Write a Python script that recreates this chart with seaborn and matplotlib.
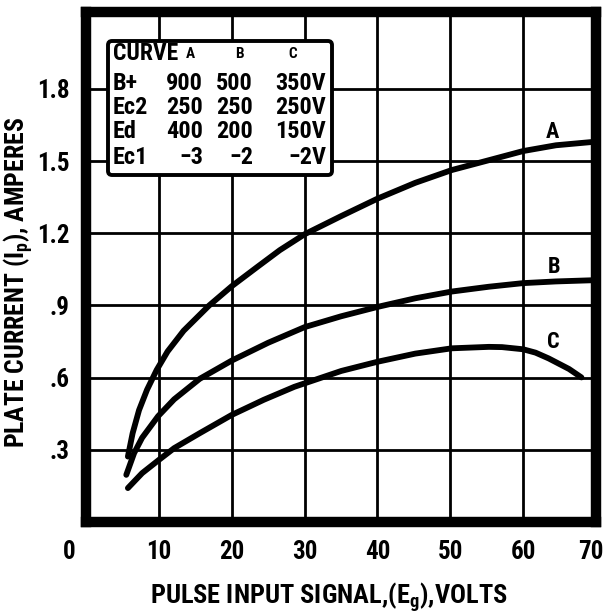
import matplotlib
matplotlib.use("Agg")
import matplotlib.pyplot as plt
from matplotlib import font_manager
from matplotlib.patches import FancyBboxPatch
from matplotlib.transforms import ScaledTranslation
import pandas as pd
import seaborn as sns

# curve data (pulse input volts, plate current amperes)
a_x = [5.75, 6.4, 7.28, 8.38, 9.7, 11.2, 13.4, 16.9, 20, 23.5, 26.6, 30, 35.05, 40, 45.2, 50.2, 55.3, 60, 64.5, 69.6]
a_y = [0.272, 0.369, 0.465, 0.55, 0.632, 0.709, 0.795, 0.90, 0.98, 1.06, 1.13, 1.196, 1.272, 1.344, 1.41, 1.463, 1.504, 1.542, 1.566, 1.58]

b_x = [5.53, 6.6, 7.7, 9.9, 12.1, 15.6, 20, 25, 30, 35, 40, 45.2, 50.2, 55.3, 60, 64.5, 69.6]
b_y = [0.196, 0.286, 0.35, 0.44, 0.51, 0.595, 0.671, 0.745, 0.81, 0.855, 0.894, 0.93, 0.958, 0.978, 0.993, 1.0, 1.005]

c_x = [5.75, 7.7, 10, 12.1, 15.6, 20, 24.4, 28.6, 35.05, 40, 45.2, 50.2, 55.3, 57.1, 60, 61.7, 63.5, 66.3, 68.0]
c_y = [0.141, 0.203, 0.258, 0.307, 0.369, 0.445, 0.508, 0.562, 0.628, 0.666, 0.7, 0.722, 0.728, 0.727, 0.718, 0.704, 0.68, 0.636, 0.601]

curve_names = ["A", "B", "C"]
label_pos = [(64.0, 1.62), (64.2, 1.058), (64.2, 0.749)]

x_ticks = [0, 10, 20, 30, 40, 50, 60, 70]
y_ticks = [0.3, 0.6, 0.9, 1.2, 1.5, 1.8]
y_tick_labels = [".3", ".6", ".9", "1.2", "1.5", "1.8"]

# table inset
table_header = ["CURVE", "A", "B", "C"]
table_rows = [
    ["B+", "900", "500", "350V"],
    ["Ec2", "250", "250", "250V"],
    ["Ed", "400", "200", "150V"],
    ["Ec1", "\u22123", "\u22122", "\u22122V"],
]

sns.set_style("white")

# look for a narrow / condensed face, the original lettering is condensed
fam, stretch, narrow = "DejaVu Sans", "normal", False
fonts = font_manager.fontManager.ttflist
for want in ["Liberation Sans Narrow", "Roboto Condensed", "Open Sans Condensed"]:
    if any(f.name == want for f in fonts):
        fam, narrow = want, True
        break
if not narrow:
    for f in fonts:
        if f.name == "DejaVu Sans" and "Condensed" in f.fname and "Bold" in f.fname:
            fam, stretch, narrow = "DejaVu Sans", "condensed", True
            break

plt.rcParams["font.family"] = [fam, "DejaVu Sans"]
plt.rcParams["font.stretch"] = stretch
plt.rcParams["font.weight"] = "bold"
plt.rcParams["text.color"] = "black"
plt.rcParams["axes.labelcolor"] = "black"
plt.rcParams["xtick.color"] = "black"
plt.rcParams["ytick.color"] = "black"
plt.rcParams["mathtext.fontset"] = "custom"
plt.rcParams["mathtext.rm"] = fam + ":bold"
plt.rcParams["mathtext.it"] = fam + ":bold"
plt.rcParams["mathtext.bf"] = fam + ":bold"

k = 1.0 if narrow else 0.8  # shrink text if no narrow face

df = pd.concat([
    pd.DataFrame({"x": a_x, "y": a_y, "curve": "A"}),
    pd.DataFrame({"x": b_x, "y": b_y, "curve": "B"}),
    pd.DataFrame({"x": c_x, "y": c_y, "curve": "C"}),
])

fig = plt.figure(figsize=(6.09, 6.13), dpi=100)
W, H = 609, 613
ax_left, ax_right, ax_top, ax_bot = 86, 596, 12, 522
ax = fig.add_axes([ax_left / W, (H - ax_bot) / H, (ax_right - ax_left) / W, (ax_bot - ax_top) / H])

for name in curve_names:
    sub = df[df["curve"] == name]
    sns.lineplot(data=sub, x="x", y="y", ax=ax, color="black", lw=4.2,
                 estimator=None, sort=False, zorder=3,
                 solid_capstyle="round", solid_joinstyle="round")

for name, (lx, ly) in zip(curve_names, label_pos):
    ax.text(lx, ly, name, fontsize=16 * k, fontweight="bold", ha="center", va="center")

ax.set_xlim(0, 70)
ax.set_ylim(0, 2.12)
ax.set_xticks(x_ticks)
ax.set_xticklabels([str(t) for t in x_ticks])
ax.set_yticks(y_ticks)
ax.set_yticklabels(y_tick_labels)
ax.tick_params(axis="both", length=0, labelsize=18 * k)
ax.tick_params(axis="x", pad=13)
ax.tick_params(axis="y", pad=12)
ax.grid(True, color="black", lw=2.0, zorder=1)
for sp in ax.spines.values():
    sp.set_visible(True)
    sp.set_color("black")
    sp.set_linewidth(7.5)

# the printed "0" and "70" sit a little left of their grid positions
xt = ax.get_xticklabels()
xt[0].set_transform(xt[0].get_transform() + ScaledTranslation(-0.17, 0, fig.dpi_scale_trans))
xt[-1].set_transform(xt[-1].get_transform() + ScaledTranslation(-0.05, 0, fig.dpi_scale_trans))

ax.set_xlabel(r"PULSE INPUT SIGNAL,(E$_{g}$),VOLTS", fontsize=19 * k, fontweight="bold", labelpad=10)
ax.set_ylabel(r"PLATE CURRENT (I$_{p}$), AMPERES", fontsize=18.5 * k, fontweight="bold")
ax.yaxis.set_label_coords(-0.1, 0.47)
ax.xaxis.set_label_coords(0.476, -0.115)


def fx(px):
    return (px - ax_left) / (ax_right - ax_left)


def fy(py):
    return (ax_bot - py) / (ax_bot - ax_top)


box = FancyBboxPatch((fx(108), fy(175)), fx(332) - fx(108), fy(41) - fy(175),
                     boxstyle="round,pad=0,rounding_size=0.008",
                     transform=ax.transAxes, facecolor="white", edgecolor="black",
                     lw=2.8, zorder=4)
ax.add_patch(box)

ax.text(fx(113), fy(54), table_header[0], transform=ax.transAxes, fontsize=17 * k,
        fontweight="bold", ha="left", va="center", zorder=5)
for hx, h in zip([190, 239, 293], table_header[1:]):
    ax.text(fx(hx), fy(54), h, transform=ax.transAxes, fontsize=11 * k,
            fontweight="bold", ha="center", va="center", zorder=5)

row_y = [83, 107.5, 132, 157.5]
col_right = [203, 253, 326]
for ry, row in zip(row_y, table_rows):
    ax.text(fx(113), fy(ry), row[0], transform=ax.transAxes, fontsize=17.5 * k,
            fontweight="bold", ha="left", va="center", zorder=5)
    for cx, val in zip(col_right, row[1:]):
        ax.text(fx(cx), fy(ry), val, transform=ax.transAxes, fontsize=17.5 * k,
                fontweight="bold", ha="right", va="center", zorder=5)

fig.savefig("out.png", dpi=100)
